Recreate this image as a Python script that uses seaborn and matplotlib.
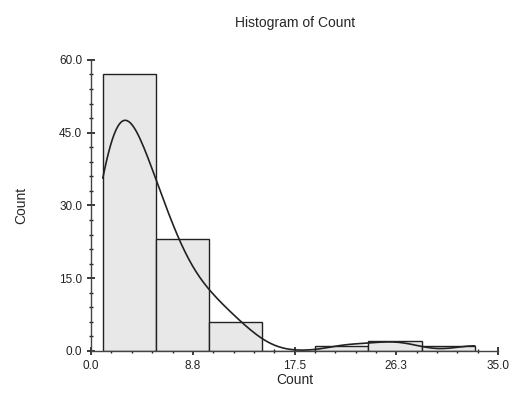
import matplotlib as mpl
import matplotlib.pyplot as plt
import pandas as pd
import seaborn as sns
from matplotlib.ticker import AutoMinorLocator

mpl.use("Agg")

# observed values and how often each occurs (estimated from the bars)
count_values = [1, 2, 3, 4, 5, 6, 7, 8, 9, 10, 11, 12, 13, 14, 22, 25, 27, 33]
frequency = [13, 14, 12, 10, 8, 8, 5, 4, 3, 3, 2, 2, 1, 1, 1, 1, 1, 1]
n_bins = 7

x_ticks = [0.0, 8.75, 17.5, 26.25, 35.0]
x_tick_labels = ["0.0", "8.8", "17.5", "26.3", "35.0"]
y_ticks = [0.0, 15.0, 30.0, 45.0, 60.0]
y_tick_labels = ["0.0", "15.0", "30.0", "45.0", "60.0"]


def main():
    sns.set_theme(style="ticks")
    plt.rcParams["font.family"] = ["Liberation Sans", "DejaVu Sans"]

    df = pd.DataFrame({"Count": count_values, "n": frequency})

    fig = plt.figure(figsize=(5.15, 3.97), dpi=100)
    ax = fig.add_axes([0.177, 0.116, 0.79, 0.733])

    sns.histplot(
        data=df,
        x="Count",
        weights="n",
        bins=n_bins,
        kde=True,
        kde_kws={"cut": 0, "bw_adjust": 0.47},
        color="#e8e8e8",
        edgecolor="#222222",
        linewidth=1.0,
        alpha=1.0,
        line_kws={"linewidth": 1.2},
        ax=ax,
    )
    ax.lines[-1].set_color("#222222")

    ax.set_xlim(0, 35)
    ax.set_ylim(0, 60)
    ax.set_xticks(x_ticks)
    ax.set_xticklabels(x_tick_labels)
    ax.set_yticks(y_ticks)
    ax.set_yticklabels(y_tick_labels)
    ax.xaxis.set_minor_locator(AutoMinorLocator(5))
    ax.yaxis.set_minor_locator(AutoMinorLocator(5))
    ax.tick_params(axis="both", which="major", direction="inout", length=6, labelsize=8.5, colors="#222222")
    ax.tick_params(axis="both", which="minor", direction="inout", length=3, color="#222222")

    for side in ["top", "right"]:
        ax.spines[side].set_visible(False)
    for side in ["left", "bottom"]:
        ax.spines[side].set_color("#444444")
        ax.spines[side].set_linewidth(1.0)

    ax.set_xlabel("Count", fontsize=10, labelpad=1)
    ax.set_ylabel("Count", fontsize=10, labelpad=22)
    ax.set_title("Histogram of Count", fontsize=10, pad=24)

    fig.savefig("out.png", dpi=100)
    plt.close(fig)


if __name__ == "__main__":
    main()
